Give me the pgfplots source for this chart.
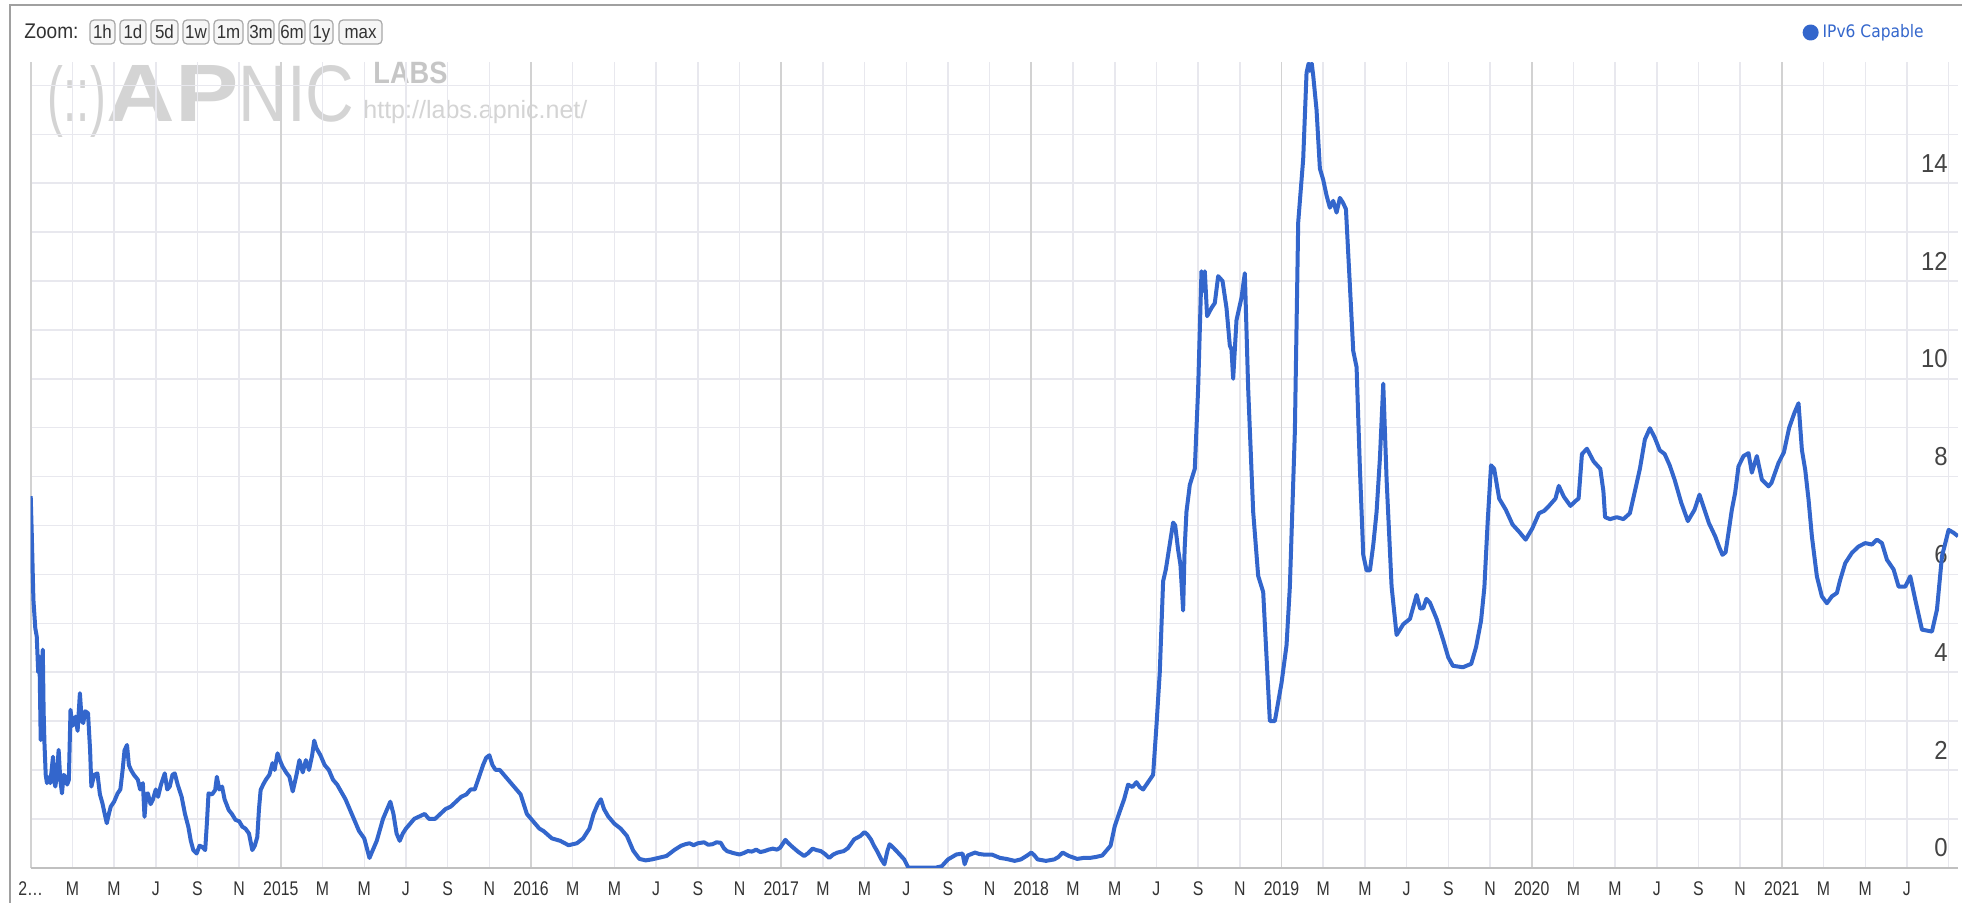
\documentclass[border=0pt]{standalone}
\usepackage{fontspec}
\setmainfont{Liberation Sans}
\newfontfamily\xfont[FakeStretch=0.8]{Liberation Sans}
\newfontfamily\yfont[FakeStretch=0.92]{Liberation Sans}
\newfontfamily\legfont[FakeStretch=0.9]{DejaVu Sans}
\newfontfamily\btnfont[FakeStretch=0.9]{Liberation Sans}
\usepackage{graphicx}
\usepackage{pgfplots}
\pgfplotsset{compat=1.18}
\definecolor{lineblue}{HTML}{3366CC}
\definecolor{gridlight}{HTML}{E8E8EE}
\definecolor{gridyear}{HTML}{D2D2D2}
\definecolor{axisgray}{HTML}{C0C0C0}
\definecolor{labelgray}{HTML}{333333}
\definecolor{ylabelgray}{HTML}{444444}
\definecolor{framegray}{HTML}{A0A0A0}
\definecolor{wm}{HTML}{D4D4D4}
\definecolor{wmlabs}{HTML}{C6C6C6}
\definecolor{btnborder}{HTML}{A8A8A8}
\definecolor{btnfill}{HTML}{F6F6F6}
\newcommand{\firstlab}{2\ldots}

\pgfplotstableread{
m v
0.0 7.6
0.05 6.85
0.13 5.48
0.22 4.9
0.29 4.73
0.36 4.0
0.42 4.32
0.48 2.61
0.53 3.9
0.58 4.46
0.62 3.2
0.66 2.55
0.72 1.9
0.78 1.73
0.86 1.85
0.94 1.73
1.07 2.27
1.12 1.8
1.18 1.66
1.26 1.9
1.34 2.41
1.42 1.8
1.5 1.52
1.58 1.9
1.66 1.86
1.75 1.7
1.83 1.8
1.91 3.23
2.0 2.9
2.15 3.09
2.25 2.8
2.36 3.57
2.45 3.0
2.52 2.96
2.62 3.2
2.75 3.16
2.85 2.4
2.91 1.66
3.05 1.9
3.2 1.93
3.32 1.5
3.44 1.32
3.55 1.1
3.65 0.91
3.75 1.1
3.84 1.25
4.0 1.35
4.17 1.52
4.3 1.6
4.41 2.0
4.5 2.4
4.62 2.51
4.71 2.1
4.81 2.0
4.95 1.9
5.14 1.8
5.25 1.6
5.38 1.73
5.46 1.04
5.54 1.5
5.62 1.52
5.75 1.3
5.86 1.39
6.0 1.6
6.11 1.45
6.25 1.7
6.43 1.93
6.55 1.6
6.67 1.66
6.8 1.9
6.91 1.93
7.05 1.7
7.24 1.45
7.4 1.1
7.56 0.84
7.68 0.55
7.8 0.36
7.96 0.29
8.1 0.45
8.21 0.43
8.37 0.36
8.45 0.9
8.53 1.52
8.7 1.5
8.85 1.59
8.93 1.86
9.05 1.6
9.18 1.66
9.3 1.4
9.5 1.18
9.65 1.1
9.82 0.98
10.0 0.95
10.15 0.84
10.3 0.8
10.47 0.7
10.63 0.36
10.75 0.45
10.87 0.63
10.95 1.2
11.03 1.59
11.15 1.7
11.28 1.8
11.45 1.9
11.6 2.14
11.7 2.0
11.84 2.34
11.95 2.2
12.08 2.07
12.25 1.95
12.41 1.86
12.57 1.56
12.75 1.9
12.89 2.2
13.05 1.95
13.2 2.2
13.35 2.0
13.5 2.3
13.6 2.6
13.7 2.45
13.9 2.3
14.1 2.1
14.3 2.0
14.5 1.8
14.7 1.7
14.9 1.55
15.1 1.4
15.3 1.2
15.5 1.0
15.75 0.75
16.0 0.6
16.25 0.2
16.4 0.35
16.6 0.55
16.9 1.0
17.1 1.2
17.25 1.35
17.4 1.1
17.55 0.7
17.7 0.55
17.85 0.7
18.0 0.8
18.2 0.9
18.4 1.0
18.65 1.05
18.9 1.1
19.1 1.0
19.4 1.0
19.65 1.1
19.9 1.2
20.15 1.25
20.4 1.35
20.65 1.45
20.9 1.5
21.1 1.6
21.3 1.6
21.5 1.85
21.7 2.1
21.85 2.25
22.0 2.3
22.15 2.1
22.3 2.0
22.5 2.0
22.7 1.9
22.9 1.8
23.1 1.7
23.3 1.6
23.5 1.5
23.65 1.3
23.8 1.1
24.0 1.0
24.2 0.9
24.4 0.8
24.6 0.75
25.0 0.6
25.4 0.55
25.8 0.46
26.2 0.5
26.5 0.6
26.8 0.8
27.0 1.1
27.2 1.3
27.35 1.4
27.5 1.2
27.7 1.05
28.0 0.9
28.3 0.8
28.6 0.65
28.9 0.35
29.2 0.18
29.5 0.15
29.8 0.17
30.1 0.2
30.5 0.24
30.9 0.37
31.2 0.45
31.4 0.48
31.6 0.5
31.8 0.46
32.0 0.5
32.3 0.52
32.5 0.47
32.7 0.48
32.9 0.52
33.1 0.51
33.25 0.4
33.4 0.34
33.7 0.3
34.0 0.27
34.2 0.3
34.4 0.34
34.6 0.33
34.8 0.37
35.0 0.32
35.2 0.34
35.4 0.37
35.6 0.39
35.8 0.37
35.95 0.41
36.2 0.57
36.35 0.5
36.5 0.44
36.8 0.33
37.1 0.24
37.3 0.3
37.5 0.39
37.7 0.36
37.9 0.34
38.1 0.28
38.3 0.2
38.5 0.27
38.7 0.31
39.0 0.34
39.2 0.4
39.5 0.58
39.8 0.65
40.0 0.73
40.15 0.67
40.3 0.58
40.45 0.45
40.6 0.34
40.8 0.17
40.95 0.07
41.1 0.35
41.2 0.48
41.4 0.4
41.6 0.31
41.9 0.17
42.1 0.0
42.7 0.0
43.4 0.0
43.7 0.03
44.0 0.17
44.2 0.22
44.4 0.27
44.7 0.29
44.8 0.07
44.95 0.25
45.3 0.31
45.5 0.28
45.7 0.27
46.1 0.27
46.5 0.2
46.8 0.18
47.2 0.14
47.5 0.17
47.8 0.25
48.0 0.31
48.15 0.25
48.3 0.17
48.7 0.14
49.1 0.17
49.3 0.22
49.5 0.31
49.8 0.24
50.2 0.18
50.5 0.2
50.8 0.2
51.1 0.22
51.4 0.25
51.6 0.35
51.8 0.45
52.0 0.85
52.24 1.15
52.45 1.4
52.64 1.7
52.85 1.65
53.04 1.75
53.2 1.65
53.36 1.6
53.6 1.75
53.84 1.9
54.0 2.9
54.16 4.0
54.32 5.86
54.45 6.1
54.56 6.4
54.8 7.06
54.9 7.0
55.04 6.5
55.15 6.2
55.28 5.26
55.35 6.5
55.44 7.28
55.6 7.83
55.84 8.16
56.0 9.8
56.16 12.2
56.25 11.8
56.32 12.2
56.43 11.28
56.64 11.45
56.8 11.55
56.96 12.1
57.17 12.0
57.36 11.45
57.52 10.68
57.6 10.6
57.68 10.0
57.84 11.2
58.08 11.66
58.24 12.16
58.4 9.8
58.64 7.28
58.88 5.97
59.12 5.64
59.44 3.0
59.68 3.0
60.0 3.78
60.24 4.55
60.4 5.75
60.64 8.93
60.8 13.2
61.04 14.5
61.2 16.26
61.3 16.45
61.36 16.3
61.45 16.45
61.52 16.2
61.68 15.5
61.84 14.3
62.0 14.07
62.16 13.75
62.32 13.5
62.48 13.64
62.64 13.4
62.8 13.7
62.95 13.6
63.09 13.47
63.28 11.9
63.44 10.57
63.6 10.24
63.76 8.16
63.92 6.4
64.08 6.08
64.24 6.08
64.4 6.6
64.56 7.28
64.72 8.38
64.88 9.9
65.04 7.94
65.28 5.75
65.52 4.76
65.84 4.98
66.16 5.09
66.48 5.58
66.65 5.3
66.8 5.31
66.95 5.5
67.12 5.42
67.44 5.09
67.76 4.65
68.0 4.3
68.22 4.13
68.7 4.1
69.1 4.17
69.33 4.51
69.57 5.05
69.73 5.73
69.89 7.09
70.05 8.23
70.2 8.16
70.44 7.55
70.76 7.32
71.08 7.02
71.4 6.87
71.71 6.71
72.03 6.94
72.35 7.25
72.6 7.3
72.83 7.4
73.14 7.55
73.3 7.81
73.54 7.59
73.86 7.4
74.1 7.5
74.25 7.55
74.41 8.46
74.65 8.57
74.97 8.31
75.29 8.16
75.44 7.7
75.52 7.17
75.76 7.13
76.08 7.17
76.4 7.13
76.71 7.25
76.95 7.7
77.19 8.16
77.43 8.76
77.67 8.99
77.9 8.8
78.14 8.54
78.38 8.46
78.62 8.23
78.86 7.93
79.17 7.47
79.49 7.09
79.81 7.32
80.05 7.63
80.29 7.32
80.5 7.05
80.8 6.78
81.0 6.55
81.15 6.4
81.3 6.45
81.44 6.85
81.6 7.32
81.76 7.67
81.92 8.21
82.16 8.42
82.4 8.48
82.56 8.08
82.8 8.42
83.04 7.94
83.36 7.8
83.5 7.87
83.84 8.28
84.1 8.5
84.35 9.0
84.6 9.3
84.8 9.5
84.96 8.55
85.12 8.14
85.28 7.53
85.44 6.78
85.68 5.96
85.92 5.55
86.16 5.41
86.4 5.55
86.64 5.62
86.8 5.89
87.04 6.23
87.36 6.44
87.68 6.57
88.0 6.64
88.32 6.61
88.56 6.71
88.8 6.64
89.04 6.3
89.36 6.1
89.6 5.75
89.92 5.75
90.16 5.96
90.4 5.48
90.72 4.87
91.2 4.83
91.44 5.28
91.68 6.37
92.0 6.91
92.24 6.85
92.45 6.78
}\ipvsix

\begin{document}
\begin{tikzpicture}
\useasboundingbox (0,0) rectangle (981pt,451pt);
\fill[white] (0,0) rectangle (981pt,451pt);
% frame, buttons and watermark (px coordinates from top-left)
\begin{scope}[shift={(0pt,451pt)}, x=0.5pt, y=-0.5pt]
  \draw[framegray, line width=1pt] (10,903) -- (10,5) -- (1963,5);
  \node[anchor=base west, inner sep=0pt, text=labelgray] at (24,39)
    {\btnfont\fontsize{10.6}{12}\selectfont Zoom:};
  \foreach \lab/\xa/\xb in {1h/90/115, 1d/120/146, 5d/151/178, 1w/183/209, 1m/214/243, 3m/248/274, 6m/279/305, 1y/310/333, max/339/382}{
    \draw[btnborder, fill=btnfill, line width=0.6pt, rounded corners=2pt] (\xa,20) rectangle (\xb,44);
    \node[anchor=base, inner sep=0pt, text=labelgray] at ({(\xa+\xb)/2},38.5)
      {\btnfont\fontsize{9.4}{10}\selectfont \lab};
  }
  % watermark
  \node[anchor=base west, inner sep=0pt, text=wm] at (47.5,121)
    {\resizebox{29pt}{28pt}{(::)}};
  \node[anchor=base west, inner sep=0pt, text=wm] at (106,121)
    {\resizebox{66pt}{28pt}{\bfseries AP}};
  \node[anchor=base west, inner sep=0pt, text=wm] at (238,121)
    {\resizebox{58pt}{28pt}{NIC}};
  \node[anchor=base west, inner sep=0pt, text=wmlabs] at (373,84)
    {\resizebox{37pt}{10.75pt}{\bfseries LABS}};
  \node[anchor=base west, inner sep=0pt, text=wm] at (363,118)
    {\resizebox{112pt}{!}{\fontsize{14}{16}\selectfont http://labs.apnic.net/}};
\end{scope}

\begin{axis}[
  at={(15.35pt,17.15pt)}, anchor=south west,
  width=963.65pt, height=402.85pt, scale only axis,
  xmin=0, xmax=92.45, ymin=0, ymax=16.48,
  axis line style={draw=none},
  major tick length=0pt, minor tick length=0pt,
  xtick={0,2,...,92},
  xticklabels={\firstlab,M,M,J,S,N,2015,M,M,J,S,N,2016,M,M,J,S,N,2017,M,M,J,S,N,2018,M,M,J,S,N,2019,M,M,J,S,N,2020,M,M,J,S,N,2021,M,M,J,{}},
  ytick={0,1,...,16},
  yticklabels={0,,2,,4,,6,,8,,10,,12,,14,,},
  yticklabel pos=right,
  xmajorgrids, ymajorgrids,
  major grid style={line width=0.75pt, color=gridlight},
  extra x ticks={0,12,24,36,48,60,72,84},
  extra x tick labels={},
  extra x tick style={major grid style={line width=0.95pt, color=gridyear}},
  extra y ticks={0},
  extra y tick labels={},
  extra y tick style={major grid style={line width=1pt, color=axisgray}},
  xticklabel style={anchor=base, inner sep=0pt, yshift=-13.9pt,
    font=\xfont\fontsize{9.9}{10}\selectfont, text=labelgray},
  yticklabel style={anchor=east, inner sep=0pt, xshift=-5pt, yshift=10pt,
    font=\yfont\fontsize{13}{14}\selectfont, text=ylabelgray},
  legend style={at={(0.9845,1.0366)}, anchor=east, draw=none, fill=none,
    inner sep=0pt, font=\legfont\fontsize{8.6}{10}\selectfont, text=lineblue},
  legend image code/.code={\fill[lineblue] (0pt,0pt) circle (3pt);},
]
\addplot[color=lineblue, line width=2pt, line join=round] table[x=m, y=v] {\ipvsix};
\addlegendentry{IPv6 Capable}
\end{axis}
\end{tikzpicture}
\end{document}
